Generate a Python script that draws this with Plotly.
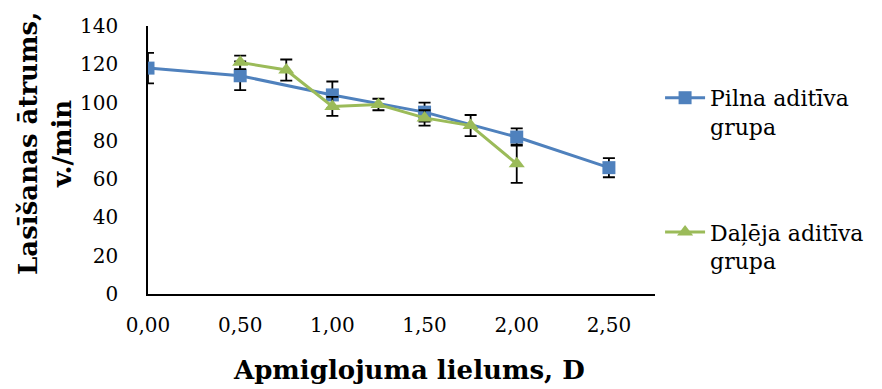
import plotly.graph_objects as go

# Data
x_full = [0.0, 0.5, 1.0, 1.5, 2.0, 2.5]
y_full = [118, 114, 104, 95, 82, 66]
err_full = [8, 7.5, 7, 5, 4.5, 5]

x_part = [0.5, 0.75, 1.0, 1.25, 1.5, 1.75, 2.0]
y_part = [121, 117, 98, 99, 92, 88, 68]
err_part = [3.5, 5.5, 5, 3, 4, 5.5, 10]

tick_vals = [0.0, 0.5, 1.0, 1.5, 2.0, 2.5]
tick_text = ["0,00", "0,50", "1,00", "1,50", "2,00", "2,50"]

name_full = "Pilna aditīva<br>grupa"
name_part = "Daļēja aditīva<br>grupa"

font_family = "DejaVu Serif"

fig = go.Figure()
fig.add_trace(go.Scatter(
    x=x_full, y=y_full, name=name_full, mode="lines+markers",
    line=dict(color="#4F81BD", width=3),
    marker=dict(symbol="square", size=13, color="#4F81BD"),
    error_y=dict(type="data", array=err_full, color="black", thickness=1.8, width=6),
    legendgroup="a",
))
fig.add_trace(go.Scatter(
    x=x_part, y=y_part, name=name_part, mode="lines+markers",
    line=dict(color="#9BBB59", width=3),
    marker=dict(symbol="triangle-up", size=14, color="#9BBB59"),
    error_y=dict(type="data", array=err_part, color="black", thickness=1.8, width=6),
    legendgroup="b",
))

fig.update_layout(
    width=882, height=389,
    margin=dict(l=148, r=227, t=26, b=95),
    paper_bgcolor="white", plot_bgcolor="white",
    font=dict(family=font_family, size=20, color="black"),
    showlegend=True,
    legend=dict(x=1.01, y=0.81, xanchor="left", yanchor="top", valign="top",
                font=dict(family=font_family, size=22, color="black"),
                tracegroupgap=74, traceorder="grouped", itemwidth=40),
    xaxis=dict(range=[0, 2.75], tickvals=tick_vals, ticktext=tick_text,
               showgrid=False, zeroline=False, showline=True, linecolor="black",
               linewidth=1.5, ticks="", ticklabelstandoff=12,
               tickfont=dict(family=font_family, size=20)),
    yaxis=dict(range=[0, 140], dtick=20, showgrid=False, zeroline=False,
               showline=True, linecolor="black", linewidth=1.5, ticks="",
               ticklabelstandoff=24, tickfont=dict(family=font_family, size=20)),
    annotations=[
        dict(text="<b>Apmiglojuma lielums, D</b>", xref="paper", yref="paper",
             x=0.515, y=-0.284, showarrow=False, xanchor="center", yanchor="middle",
             font=dict(family=font_family, size=26, color="black")),
        dict(text="<b>Lasīšanas ātrums,<br>v./min</b>", xref="paper", yref="paper",
             x=-0.203, y=0.56, showarrow=False, textangle=-90,
             xanchor="center", yanchor="middle",
             font=dict(family=font_family, size=26, color="black")),
    ],
)

fig.write_html("out.html")
